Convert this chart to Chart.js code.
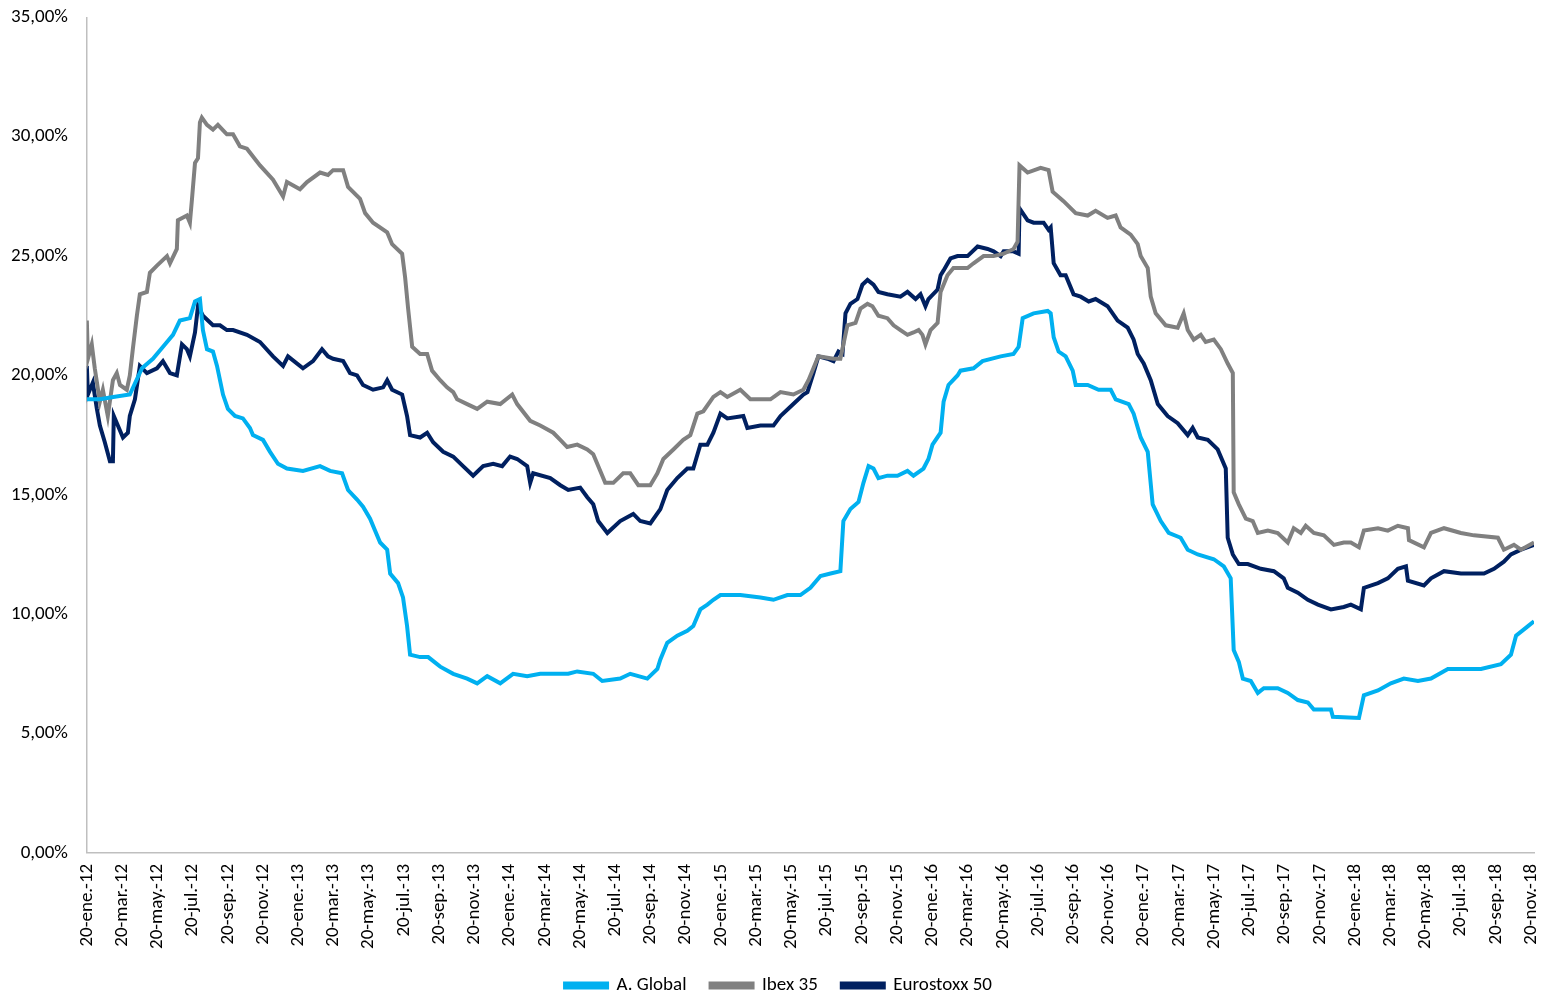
<!DOCTYPE html>
<html>
<head>
<meta charset="utf-8">
<script src="https://cdn.jsdelivr.net/npm/chart.js@4"></script>
<style>
  html, body { margin: 0; padding: 0; background: #fff; overflow: hidden; width: 1542px; height: 994px; }
  #wrap { width: 1557px; height: 1010px; margin-top: -5px; }
</style>
</head>
<body>
<div id="wrap"><canvas id="volChart"></canvas></div>
<script>
// etiquetas del eje X (cada 2 meses desde 20-ene-12)
const tickLabels = [
    '20-ene.-12', '20-mar.-12', '20-may.-12', '20-jul.-12', '20-sep.-12', '20-nov.-12',
    '20-ene.-13', '20-mar.-13', '20-may.-13', '20-jul.-13', '20-sep.-13', '20-nov.-13',
    '20-ene.-14', '20-mar.-14', '20-may.-14', '20-jul.-14', '20-sep.-14', '20-nov.-14',
    '20-ene.-15', '20-mar.-15', '20-may.-15', '20-jul.-15', '20-sep.-15', '20-nov.-15',
    '20-ene.-16', '20-mar.-16', '20-may.-16', '20-jul.-16', '20-sep.-16', '20-nov.-16',
    '20-ene.-17', '20-mar.-17', '20-may.-17', '20-jul.-17', '20-sep.-17', '20-nov.-17',
    '20-ene.-18', '20-mar.-18', '20-may.-18', '20-jul.-18', '20-sep.-18', '20-nov.-18'
];
const seriesNames = ['A. Global', 'Ibex 35', 'Eurostoxx 50'];
const yTicks = [0, 5, 10, 15, 20, 25, 30, 35];

// A. Global: meses desde 20-ene-12 y volatilidad (%)
const globalMonths = [0,0.74,1.5,2.44,3.13,3.75,4.55,4.89,5.28,5.85,6.14,6.42,6.59,6.82,7.16,7.39,7.73,8.01,8.41,8.86,9.26,9.43,10.0,10.4,10.85,11.36,12.27,13.24,13.81,14.49,14.83,15.34,15.68,16.08,16.36,16.65,17.05,17.22,17.67,17.95,18.18,18.35,18.92,19.38,20.06,20.8,21.59,22.16,22.73,23.47,24.2,25.0,25.74,26.48,27.33,27.84,28.75,29.26,30.28,30.85,31.82,32.39,32.56,32.95,33.52,34.09,34.43,34.83,35.23,35.57,35.97,37.1,38.24,38.98,39.77,40.51,41.08,41.65,42.22,42.78,42.95,43.35,43.81,44.09,44.38,44.66,44.94,45.45,46.02,46.59,46.93,47.5,47.78,48.01,48.47,48.64,48.92,49.43,49.6,50.34,50.85,51.88,52.61,52.9,53.13,53.75,54.55,54.72,54.89,55.17,55.57,55.97,56.14,56.82,57.44,58.13,58.41,59.15,59.43,59.83,60.23,60.51,60.97,61.42,62.1,62.5,63.07,63.98,64.55,64.94,65.11,65.4,65.63,66.08,66.48,66.82,67.61,68.18,68.75,69.32,69.66,70.63,70.74,72.22,72.5,73.3,74.03,74.77,75.57,76.31,77.27,78.41,79.15,80.28,80.85,81.14,81.82,82.16];
const globalValues = [19.0,19.0,19.1,19.2,20.3,20.7,21.4,21.7,22.3,22.4,23.1,23.2,21.9,21.1,21.0,20.4,19.2,18.6,18.3,18.2,17.8,17.5,17.3,16.8,16.3,16.1,16.0,16.2,16.0,15.9,15.2,14.8,14.5,14.0,13.5,13.0,12.7,11.7,11.3,10.7,9.5,8.3,8.2,8.2,7.8,7.5,7.3,7.1,7.4,7.1,7.5,7.4,7.5,7.5,7.5,7.6,7.5,7.2,7.3,7.5,7.3,7.7,8.1,8.8,9.1,9.3,9.5,10.2,10.4,10.6,10.8,10.8,10.7,10.6,10.8,10.8,11.1,11.6,11.7,11.8,13.9,14.4,14.7,15.5,16.2,16.1,15.7,15.8,15.8,16.0,15.8,16.1,16.5,17.1,17.6,18.9,19.6,20.0,20.2,20.3,20.6,20.8,20.9,21.2,22.4,22.6,22.7,22.6,21.6,21.0,20.8,20.2,19.6,19.6,19.4,19.4,19.0,18.8,18.4,17.4,16.8,14.6,13.9,13.4,13.2,12.7,12.5,12.3,12.0,11.5,8.5,8.0,7.3,7.2,6.7,6.9,6.9,6.7,6.4,6.3,6.0,6.0,5.7,5.65,6.6,6.8,7.1,7.3,7.2,7.3,7.7,7.7,7.7,7.9,8.3,9.1,9.5,9.7];

// Ibex 35
const ibexMonths = [0,0.06,0.28,0.45,0.74,0.91,1.19,1.48,1.7,1.88,2.27,2.44,2.61,2.84,3.01,3.41,3.58,3.98,4.55,4.72,5.11,5.17,5.68,5.85,5.97,6.14,6.31,6.42,6.53,6.82,7.16,7.44,7.95,8.3,8.69,9.09,9.83,10.57,11.14,11.36,12.1,12.5,13.24,13.69,13.98,14.55,14.83,15.51,15.8,16.25,17.05,17.33,17.9,18.07,18.24,18.47,18.92,19.32,19.6,20.06,20.45,20.8,21.02,21.59,22.16,22.73,23.47,24.15,24.43,25.17,25.74,26.48,26.88,27.27,27.84,28.41,28.75,29.15,29.43,29.89,30.45,30.85,31.31,31.99,32.39,32.73,33.3,33.86,34.26,34.66,35.0,35.57,35.97,36.36,37.1,37.67,38.24,38.81,39.38,40.11,40.68,40.97,41.25,41.53,42.39,42.78,43.18,43.64,43.92,44.32,44.6,44.94,45.45,45.8,46.19,46.59,46.93,47.22,47.44,47.61,47.9,48.3,48.47,48.86,49.2,50.0,50.34,50.91,51.48,52.05,52.61,52.84,52.95,53.41,54.15,54.6,54.83,55.45,56.14,56.82,57.27,57.95,58.41,58.69,59.26,59.66,59.83,60.23,60.4,60.68,61.25,61.93,62.27,62.5,62.84,63.24,63.52,63.98,64.38,64.77,65.06,65.11,65.4,65.8,66.19,66.48,67.05,67.61,68.18,68.52,68.92,69.2,69.66,70.23,70.8,71.36,71.76,72.22,72.5,73.3,73.86,74.43,75.0,75.06,75.91,76.31,77.05,78.01,78.75,80.11,80.45,81.02,81.42,82.16];
const ibexValues = [22.3,20.7,21.3,20.3,18.9,19.4,18.3,19.8,20.1,19.6,19.4,20.0,21.1,22.5,23.4,23.5,24.3,24.6,25.0,24.7,25.3,26.5,26.7,26.4,27.4,28.9,29.1,30.6,30.8,30.5,30.3,30.5,30.1,30.1,29.6,29.5,28.8,28.2,27.5,28.1,27.8,28.1,28.5,28.4,28.6,28.6,27.9,27.4,26.8,26.4,26.0,25.5,25.1,24.1,22.8,21.2,20.9,20.9,20.2,19.8,19.5,19.3,19.0,18.8,18.6,18.9,18.8,19.2,18.8,18.1,17.9,17.6,17.3,17.0,17.1,16.9,16.7,16.0,15.5,15.5,15.9,15.9,15.4,15.4,15.9,16.5,16.9,17.3,17.5,18.4,18.5,19.1,19.3,19.1,19.4,19.0,19.0,19.0,19.3,19.2,19.4,19.8,20.3,20.8,20.7,20.7,22.1,22.2,22.8,23.0,22.9,22.5,22.4,22.1,21.9,21.7,21.8,21.9,21.7,21.3,21.9,22.2,23.5,24.2,24.5,24.5,24.7,25.0,25.0,25.1,25.3,25.6,28.8,28.5,28.7,28.6,27.7,27.3,26.8,26.7,26.9,26.6,26.7,26.2,25.9,25.5,25.0,24.5,23.3,22.6,22.1,22.0,22.6,21.9,21.5,21.7,21.4,21.5,21.1,20.5,20.1,15.1,14.6,14.0,13.9,13.4,13.5,13.4,13.0,13.6,13.4,13.7,13.4,13.3,12.9,13.0,13.0,12.8,13.5,13.6,13.5,13.7,13.6,13.1,12.8,13.4,13.6,13.4,13.3,13.2,12.7,12.9,12.7,13.0];

// Eurostoxx 50
const stoxxMonths = [0,0.06,0.34,0.57,0.74,1.02,1.31,1.48,1.53,1.76,2.05,2.33,2.44,2.73,3.01,3.41,3.98,4.32,4.72,5.11,5.4,5.68,5.85,6.14,6.31,6.59,7.16,7.56,7.95,8.3,9.09,9.83,10.57,11.14,11.42,12.27,12.84,13.35,13.69,13.98,14.55,14.94,15.34,15.68,16.25,16.82,17.05,17.33,17.9,18.18,18.35,18.92,19.32,19.66,20.23,20.8,21.36,21.93,22.5,23.07,23.58,24.03,24.43,25.0,25.17,25.34,26.31,26.88,27.33,28.01,28.41,28.75,29.03,29.55,30.28,31.02,31.42,31.99,32.56,32.95,33.52,34.09,34.43,34.83,35.23,35.57,35.97,36.36,37.27,37.5,38.24,38.98,39.38,40.11,40.68,40.91,41.25,41.53,42.05,42.39,42.67,42.9,43.07,43.35,43.75,44.03,44.32,44.66,44.94,45.45,46.19,46.59,47.05,47.33,47.61,47.78,48.3,48.47,48.64,49.03,49.43,50.0,50.57,51.14,51.48,51.88,52.05,52.61,52.9,52.95,53.41,53.75,54.32,54.6,54.72,54.89,55.28,55.57,56.02,56.42,56.88,57.27,57.95,58.52,59.09,59.43,59.66,60.0,60.4,60.8,61.36,61.93,62.5,62.78,63.07,63.64,64.2,64.66,64.77,65.06,65.4,65.91,66.65,67.39,67.95,68.18,68.75,69.32,69.89,70.63,71.36,71.76,72.33,72.5,73.3,73.86,74.43,74.89,75.0,75.91,76.31,77.05,78.01,79.32,79.89,80.45,80.85,81.42,82.16];
const stoxxValues = [20.4,19.2,19.7,18.6,17.9,17.2,16.4,16.4,18.3,17.9,17.4,17.6,18.3,19.0,20.4,20.1,20.3,20.6,20.1,20.0,21.3,21.1,20.8,21.8,22.9,22.5,22.1,22.1,21.9,21.9,21.7,21.4,20.8,20.4,20.8,20.3,20.6,21.1,20.8,20.7,20.6,20.1,20.0,19.6,19.4,19.5,19.8,19.4,19.2,18.3,17.5,17.4,17.6,17.2,16.8,16.6,16.2,15.8,16.2,16.3,16.2,16.6,16.5,16.2,15.5,15.9,15.7,15.4,15.2,15.3,14.9,14.6,13.9,13.4,13.9,14.2,13.9,13.8,14.4,15.2,15.7,16.1,16.1,17.1,17.1,17.6,18.4,18.2,18.3,17.8,17.9,17.9,18.3,18.8,19.2,19.3,20.1,20.8,20.7,20.6,21.0,20.9,22.6,23.0,23.2,23.8,24.0,23.8,23.5,23.4,23.3,23.5,23.2,23.4,22.9,23.2,23.6,24.2,24.4,24.9,25.0,25.0,25.4,25.3,25.2,25.0,25.2,25.2,25.1,27.0,26.5,26.4,26.4,26.1,26.2,24.7,24.2,24.2,23.4,23.3,23.1,23.2,22.9,22.3,22.0,21.5,20.9,20.5,19.8,18.8,18.3,18.0,17.5,17.8,17.4,17.3,16.9,16.1,13.2,12.5,12.1,12.1,11.9,11.8,11.5,11.1,10.9,10.6,10.4,10.2,10.3,10.4,10.2,11.1,11.3,11.5,11.9,12.0,11.4,11.2,11.5,11.8,11.7,11.7,11.9,12.2,12.5,12.7,12.9];

const toPoints = (months, values) => months.map((m, i) => ({ x: m, y: values[i] }));
const FONT = 'Carlito, Calibri, "Liberation Sans", sans-serif';

const ctx = document.getElementById('volChart').getContext('2d');
new Chart(ctx, {
    type: 'line',
    data: {
        datasets: [{
            label: seriesNames[0],
            data: toPoints(globalMonths, globalValues),
            borderColor: '#00B0F0',
            backgroundColor: '#00B0F0',
            borderWidth: 4,
            pointRadius: 0,
            tension: 0
        }, {
            label: seriesNames[1],
            data: toPoints(ibexMonths, ibexValues),
            borderColor: '#808080',
            backgroundColor: '#808080',
            borderWidth: 4,
            pointRadius: 0,
            tension: 0
        }, {
            label: seriesNames[2],
            data: toPoints(stoxxMonths, stoxxValues),
            borderColor: '#002060',
            backgroundColor: '#002060',
            borderWidth: 4,
            pointRadius: 0,
            tension: 0
        }]
    },
    options: {
        responsive: true,
        maintainAspectRatio: false,
        animation: false,
        layout: { padding: 0 },
        plugins: {
            tooltip: { enabled: false },
            legend: {
                position: 'bottom',
                labels: {
                    boxWidth: 42,
                    boxHeight: 4,
                    padding: 24,
                    color: '#000',
                    font: { family: FONT, size: 19 }
                }
            }
        },
        scales: {
            x: {
                type: 'linear',
                min: 0,
                max: 82.16,
                grid: { display: false },
                border: { display: true, color: '#BFBFBF', width: 1.5 },
                afterBuildTicks: axis => {
                    axis.ticks = tickLabels.map((_, i) => ({ value: i * 2 }));
                },
                ticks: {
                    autoSkip: false,
                    minRotation: 90,
                    maxRotation: 90,
                    padding: 3,
                    color: '#000',
                    font: { family: FONT, size: 19 },
                    callback: value => tickLabels[Math.round(value / 2)]
                }
            },
            y: {
                min: 0,
                max: 35,
                grid: { display: false },
                border: { display: true, color: '#BFBFBF', width: 1.5 },
                afterBuildTicks: axis => {
                    axis.ticks = yTicks.map(v => ({ value: v }));
                },
                ticks: {
                    padding: 11,
                    color: '#000',
                    font: { family: FONT, size: 19 },
                    callback: value => value.toFixed(2).replace('.', ',') + '%'
                }
            }
        }
    }
});
</script>
</body>
</html>
